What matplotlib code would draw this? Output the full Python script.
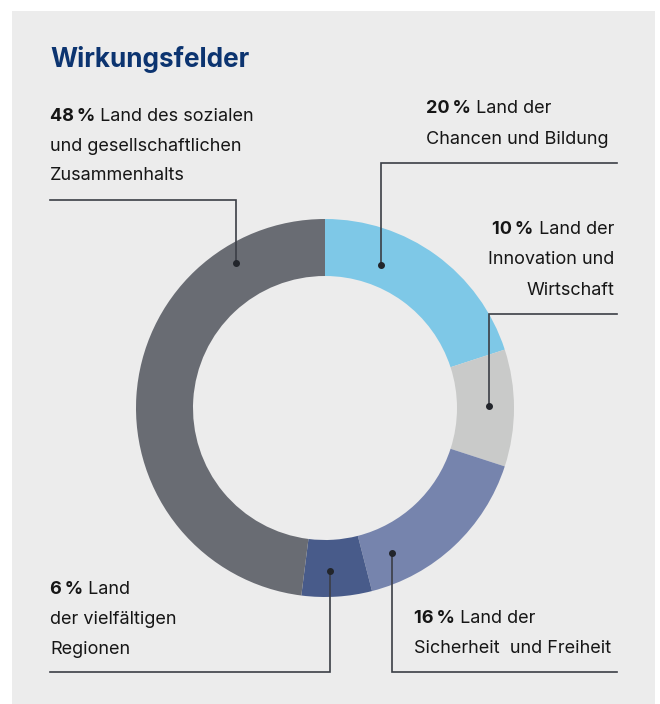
import numpy as np
import matplotlib.pyplot as plt
from matplotlib.patches import Rectangle

# Wirkungsfelder - Anteile in Prozent (im Uhrzeigersinn ab 12 Uhr)
shares = [20, 10, 16, 6, 48]
colors = ["#7ec8e7", "#c9cac9", "#7684ad", "#485b8a", "#696c73"]
label_lines = [
    ["Land der", "Chancen und Bildung"],
    ["Land der", "Innovation und", "Wirtschaft"],
    ["Land der", "Sicherheit  und Freiheit"],
    ["Land", "der vielfältigen", "Regionen"],
    ["Land des sozialen", "und gesellschaftlichen", "Zusammenhalts"],
]
title = "Wirkungsfelder"

W, H = 660, 704
FONT = ["Inter", "DejaVu Sans"]
TXT = "#161616"
LINE = "#3b3e46"

fig = plt.figure(figsize=(W / 100, H / 100), dpi=100, facecolor="white")
ax = fig.add_axes([0, 0, 1, 1])

def Y(y):  # pixel-y von oben -> Datenkoordinate
    return H - y

# Ring
cx, cy, R, ring = 325, 408, 189, 57
ax.pie(shares, colors=colors, startangle=90, counterclock=False,
       center=(cx, Y(cy)), radius=R,
       wedgeprops=dict(width=ring, linewidth=0))

# grauer Hintergrund-Kasten
ax.add_patch(Rectangle((12, 0), 655 - 12, H - 11, facecolor="#ececec",
                       edgecolor="none", zorder=-10))
ax.set_xlim(0, W)
ax.set_ylim(0, H)
ax.set_aspect("equal")
ax.axis("off")

# Fuehrungslinien: (winkel, radius, knick-y, end-x)
leaders = [
    (68.7, 154, 163, 617),
    (0.7, 164, 314, 617),
    (-65.2, 160, 672, 617),
    (-88.2, 163, 672, 50),
    (121.5, 170, 200, 50),
]
for ang, r, ky, ex in leaders:
    a = np.radians(ang)
    dx = cx + r * np.cos(a)
    dy = Y(cy) + r * np.sin(a)
    ax.plot([dx, dx, ex], [dy, Y(ky), Y(ky)], color=LINE, lw=1.2,
            solid_joinstyle="miter", zorder=5)
    ax.plot(dx, dy, "o", color="#22252b", ms=4, zorder=6)

# Textbloecke: (x, baseline-y der ersten zeile, zeilenabstand, ausrichtung)
blocks = [
    (426, 113, 30.5, "left"),
    (614, 234, 30.5, "right"),
    (414, 623, 30, "left"),
    (50, 594, 29.8, "left"),
    (50, 121, 29.6, "left"),
]
fs = 13
for (x, y0, dl, ha), v, lines in zip(blocks, shares, label_lines):
    pct = f"{v}\u2009%"
    if ha == "left":
        b = ax.text(x, Y(y0), pct, ha="left", va="baseline", fontsize=fs,
                    fontweight="bold", color=TXT, family=FONT)
        ax.annotate(" " + lines[0], xy=(1, 0), xycoords=b, ha="left",
                    va="bottom", fontsize=fs, color=TXT, family=FONT)
    else:
        t = ax.text(x, Y(y0), " " + lines[0], ha="right", va="baseline",
                    fontsize=fs, color=TXT, family=FONT)
        ax.annotate(pct, xy=(0, 0), xycoords=t, ha="right", va="bottom",
                    fontsize=fs, fontweight="bold", color=TXT, family=FONT)
    for i, ln in enumerate(lines[1:], start=1):
        ax.text(x, Y(y0 + i * dl), ln, ha=ha, va="baseline", fontsize=fs,
                color=TXT, family=FONT)

ax.text(50, Y(67), title, ha="left", va="baseline", fontsize=18.8,
        fontweight="bold", color="#0c3470", family=FONT)

fig.savefig("out.png", dpi=100, facecolor="white")
